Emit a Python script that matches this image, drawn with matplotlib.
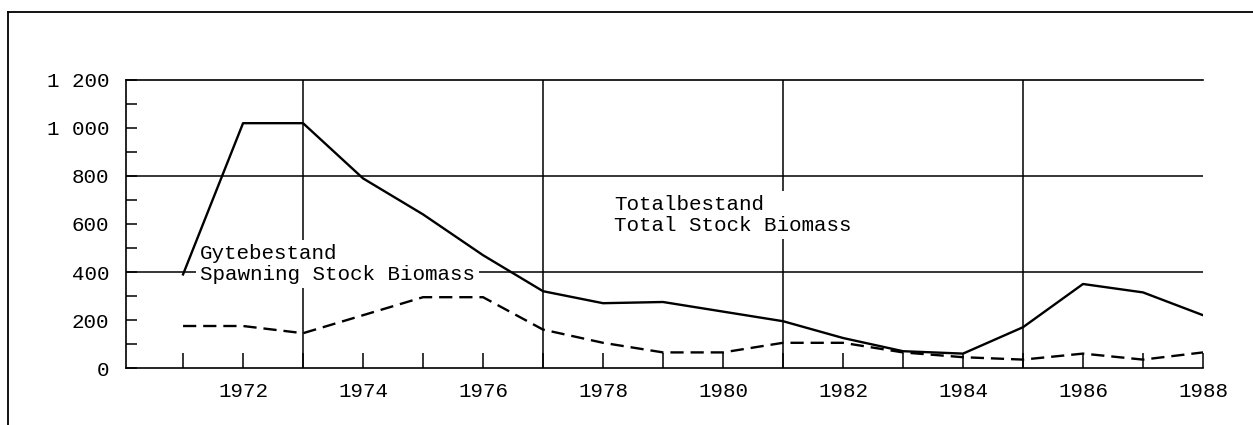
import numpy as np
import matplotlib.pyplot as plt

# Data (thousand tonnes)
years = [1971, 1972, 1973, 1974, 1975, 1976, 1977, 1978, 1979,
         1980, 1981, 1982, 1983, 1984, 1985, 1986, 1987, 1988]
total_stock = [390, 1020, 1020, 790, 640, 470, 320, 270, 275,
               235, 195, 125, 70, 60, 170, 350, 315, 220]
spawning_stock = [175, 175, 145, 220, 295, 295, 160, 105, 65,
                  65, 105, 105, 65, 45, 35, 60, 35, 65]

y_ticks = [0, 200, 400, 600, 800, 1000, 1200]
y_labels = ["0", "200", "400", "600", "800", "1 000", "1 200"]
x_label_years = [1972, 1974, 1976, 1978, 1980, 1982, 1984, 1986, 1988]
grid_years = [1973, 1977, 1981, 1985]
grid_values = [400, 800]

plt.rcParams['font.family'] = ['Liberation Mono', 'DejaVu Sans Mono']
plt.rcParams['lines.scale_dashes'] = False

fig = plt.figure(figsize=(12.53, 4.25), dpi=100)
ax = fig.add_axes([0.1006, 0.1341, 0.8595, 0.6777])

# outer frame (only top and left edges visible in the scan)
fig.add_artist(plt.Line2D([0.0064, 0.0064], [0.0, 0.972], color='black', lw=1.3,
                          transform=fig.transFigure))
fig.add_artist(plt.Line2D([0.0064, 1.0], [0.972, 0.972], color='black', lw=1.3,
                          transform=fig.transFigure))

# grid
for yr in grid_years:
    ax.axvline(yr, color='black', lw=1.1, zorder=1)
for v in grid_values:
    ax.axhline(v, color='black', lw=1.1, zorder=1)

# series
ax.plot(years, total_stock, color='black', lw=1.7, zorder=3)
ax.plot(years, spawning_stock, color='black', lw=1.7, zorder=3,
        linestyle=(0, (9.5, 5)))

# labels
ax.text(1971.28, 515, "Gytebestand\nSpawning Stock Biomass", fontsize=15,
        va='top', ha='left', linespacing=1.12, zorder=2.5,
        bbox=dict(facecolor='white', edgecolor='none', pad=3))
ax.text(1978.18, 722, "Totalbestand\nTotal Stock Biomass", fontsize=15,
        va='top', ha='left', linespacing=1.12, zorder=2.5,
        bbox=dict(facecolor='white', edgecolor='none', pad=3))

ax.set_xlim(1970.05, 1988)
ax.set_ylim(0, 1200)

ax.set_yticks(y_ticks)
ax.set_yticklabels(y_labels)
ax.set_yticks(np.arange(0, 1201, 100), minor=True)
ax.set_xticks(x_label_years)
ax.set_xticks(years, minor=True)

ax.tick_params(axis='y', which='both', direction='in', length=8, width=1.1,
               labelsize=15, pad=12)
ax.tick_params(axis='x', which='both', direction='in', length=11, width=1.1,
               labelsize=15, pad=10)

for side in ['left', 'bottom', 'top']:
    ax.spines[side].set_linewidth(1.2)
ax.spines['right'].set_visible(False)

fig.savefig("out.png", dpi=100)
